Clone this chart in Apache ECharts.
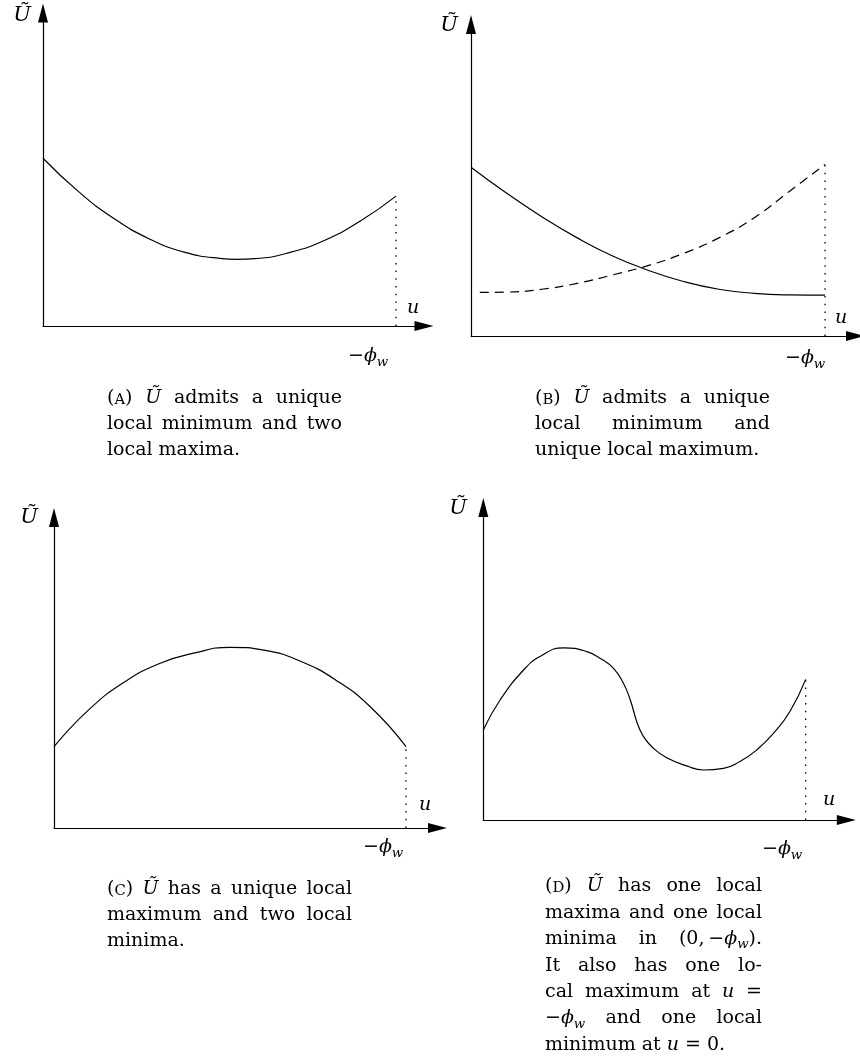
<!DOCTYPE html>
<html><head><meta charset="utf-8">
<script src="https://cdn.jsdelivr.net/npm/echarts@6/dist/echarts.min.js"></script>
<style>html,body{margin:0;padding:0;background:#fff}#c{width:860px;height:1059px}</style>
</head><body><div id="c"></div>
<script>
// ---- Data: x = 0 at the vertical axis, x = 100 at u = −ϕw; y = 0 on the horizontal axis ----
const curveA_x = [0, 10, 20, 30, 40, 50, 55, 60, 70, 80, 90, 100];
const curveA_y = [53.6, 43.0, 34.4, 27.9, 23.6, 21.6, 21.3, 21.5, 23.5, 27.5, 33.6, 41.5];

const curveB1_x = [0, 10, 20, 30, 40, 50, 60, 70, 80, 90, 100];
const curveB1_y = [54.2, 45.9, 38.3, 31.5, 25.7, 21.1, 17.5, 15.0, 13.7, 13.2, 13.1];
const curveB2_x = [2.5, 10, 20, 30, 40, 50, 60, 70, 80, 90, 100];
const curveB2_y = [14.0, 14.1, 15.0, 16.9, 19.6, 22.6, 26.5, 31.5, 38.0, 46.5, 55.1];

const curveC_x = [0, 10, 20, 30, 40, 50, 60, 70, 80, 90, 100];
const curveC_y = [26.2, 38.2, 47.0, 53.0, 56.4, 58.2, 57.2, 53.7, 47.7, 38.9, 26.2];

const curveD_x = [0, 5.2, 12.5, 17.6, 24.9, 32.1, 36.3, 40.4, 43.5, 45.6, 47.7, 49.7, 52.8, 56.9, 63.1, 68.3, 74.5, 79.6, 84.8, 90.0, 95.2, 100];
const curveD_y = [28.8, 38.4, 48.0, 52.3, 55.1, 53.9, 51.7, 48.5, 43.7, 38.4, 31.2, 26.7, 22.9, 19.9, 17.3, 16.0, 16.5, 18.7, 22.4, 27.7, 34.9, 45.0];

const uEnd = 100; // position of u = −ϕw on each x axis

// ---- Text ----
const yLabel = "{m:Ũ}";
const xLabel = "{m:u}";
const endLabel = "−{m:ϕ}{sub:w}";
const captionA = ["({sc:A}) {m:Ũ} admits a unique", "local minimum and two", "local maxima."];
const captionB = ["({sc:B}) {m:Ũ} admits a unique", "local minimum and", "unique local maximum."];
const captionC = ["({sc:C}) {m:Ũ} has a unique local", "maximum and two local", "minima."];
const captionD = ["({sc:D}) {m:Ũ} has one local", "maxima and one local", "minima in (0,\u2009−{m:ϕ}{sub:w}).",
  "It also has one lo-", "cal maximum at {m:u} =", "−{m:ϕ}{sub:w} and one local", "minimum at {m:u} = 0."];

const zip = (xs, ys) => xs.map((x, i) => [x, ys[i]]);

// ---- Layout ----
const panels = [
  { grid: {left: 43, top: 13, width: 381, height: 313}, xMax: 107.93,
    curves: [{x: curveA_x, y: curveA_y}] },
  { grid: {left: 471, top: 24.5, width: 384.5, height: 311.5}, xMax: 108.6,
    curves: [{x: curveB1_x, y: curveB1_y}, {x: curveB2_x, y: curveB2_y, dash: [9, 6]}] },
  { grid: {left: 54, top: 517.5, width: 383.5, height: 310.5}, xMax: 108.95,
    curves: [{x: curveC_x, y: curveC_y}] },
  { grid: {left: 483.3, top: 507.5, width: 363, height: 312.5}, xMax: 112.6,
    curves: [{x: curveD_x, y: curveD_y}] }
];

const grids = [], xAxes = [], yAxes = [], series = [];
panels.forEach((p, i) => {
  grids.push(Object.assign({containLabel: false}, p.grid));
  const axisCommon = {
    type: 'value', gridIndex: i,
    axisLine: {show: true, onZero: false, symbol: ['none', 'triangle'], symbolSize: [10, 19],
      lineStyle: {color: '#000', width: 1.2}},
    axisTick: {show: false}, axisLabel: {show: false}, splitLine: {show: false}
  };
  xAxes.push(Object.assign({}, axisCommon, {min: 0, max: p.xMax}));
  yAxes.push(Object.assign({}, axisCommon, {min: 0, max: 100}));
  let top = 0;
  p.curves.forEach(c => {
    series.push({
      type: 'line', xAxisIndex: i, yAxisIndex: i, data: zip(c.x, c.y),
      smooth: 0.5, showSymbol: false, silent: true,
      lineStyle: {color: '#000', width: 1.2, type: c.dash || 'solid'}
    });
    top = Math.max(top, c.y[c.y.length - 1]);
  });
  series.push({
    type: 'line', xAxisIndex: i, yAxisIndex: i, data: [[uEnd, 0], [uEnd, top]],
    showSymbol: false, silent: true,
    lineStyle: {color: '#000', width: 1.3, type: [1.5, 6.2]}
  });
});

// ---- Rich text helper (graphic text elements) ----
const FAM = '"DejaVu Serif"';
const SIZE = 19;
const mctx = document.createElement('canvas').getContext('2d');
function segFont(type, s) {
  if (type === 'sc') return {font: (s * 0.78) + 'px ' + FAM, size: s * 0.78, dy: 0};
  if (type === 'm') return {font: 'italic ' + s + 'px ' + FAM, size: s, dy: 0};
  if (type === 'sub') return {font: 'italic ' + (s * 0.7) + 'px ' + FAM, size: s * 0.7, dy: s * 0.2};
  return {font: s + 'px ' + FAM, size: s, dy: 0};
}
function parse(word) {
  const out = []; const re = /\{(\w+):([^}]*)\}|([^{]+)/g; let m;
  while ((m = re.exec(word))) out.push(m[3] != null ? {type: 'r', text: m[3]} : {type: m[1], text: m[2]});
  return out;
}
function measureSegs(segs, s) {
  return segs.reduce((w, g) => { const f = segFont(g.type, s); mctx.font = f.font; return w + mctx.measureText(g.text).width; }, 0);
}
function drawSegs(segs, x, baseline, s, out) {
  segs.forEach(g => {
    const f = segFont(g.type, s);
    mctx.font = f.font;
    const w = mctx.measureText(g.text).width;
    out.push({type: 'text', x: x, y: baseline + f.dy - 0.346 * f.size, silent: true,
      style: {text: g.text, font: f.font, fill: '#000', align: 'left', verticalAlign: 'middle',
        textAlign: 'left', textVerticalAlign: 'middle'}});
    x += w;
  });
  return x;
}
function drawCaption(lines, x, width, baseline0, lead, s, out) {
  mctx.font = s + 'px ' + FAM;
  const sp = mctx.measureText(' ').width;
  lines.forEach((line, li) => {
    const words = line.split(' ').map(parse);
    const ws = words.map(w => measureSegs(w, s));
    const total = ws.reduce((a, b) => a + b, 0);
    const justify = li < lines.length - 1 && words.length > 1;
    const gap = justify ? (width - total) / (words.length - 1) : sp;
    let cx = x;
    words.forEach((w, wi) => { drawSegs(w, cx, baseline0 + li * lead, s, out); cx += ws[wi] + gap; });
  });
}

const graphics = [];
// axis label anchors: [x, baseline]
const yLabelPos = [[22, 23], [449, 33], [29, 525], [458, 516]];
const xLabelPos = [[413, 315], [841, 325], [425, 812], [829, 807]];
const endLabelPos = [[348, 363], [785, 365], [363, 854], [762, 856]];
const LS = 19;
yLabelPos.forEach(p => { const s = parse(yLabel); drawSegs(s, p[0] - measureSegs(s, 21) / 2, p[1], 21, graphics); });
xLabelPos.forEach(p => { const s = parse(xLabel); drawSegs(s, p[0] - measureSegs(s, LS) / 2, p[1], LS, graphics); });
endLabelPos.forEach(p => { drawSegs(parse(endLabel), p[0], p[1], LS, graphics); });

drawCaption(captionA, 107, 235, 405, 26, SIZE, graphics);
drawCaption(captionB, 535, 235, 405, 26, SIZE, graphics);
drawCaption(captionC, 107, 245, 896, 26, SIZE, graphics);
drawCaption(captionD, 545, 217, 893, 26.4, SIZE, graphics);

const chart = echarts.init(document.getElementById('c'));
chart.setOption({
  animation: false,
  backgroundColor: '#fff',
  grid: grids, xAxis: xAxes, yAxis: yAxes, series: series,
  graphic: {elements: graphics}
});
</script></body></html>
